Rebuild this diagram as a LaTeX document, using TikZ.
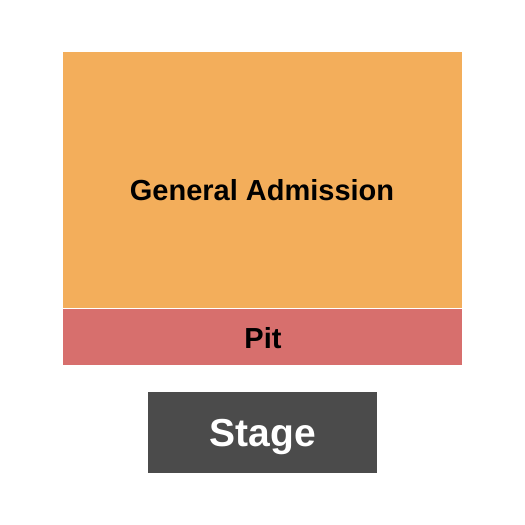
\documentclass[tikz,border=0pt]{standalone}
\usepackage{fontspec}
\setmainfont{Liberation Sans}
\definecolor{gacolor}{HTML}{F3AE5B}
\definecolor{pitcolor}{HTML}{D76F6D}
\definecolor{stagecolor}{HTML}{4B4B4B}
\tikzset{
  section/.style = {inner sep=0pt, anchor=base},
}
\begin{document}
\begin{tikzpicture}[x=1pt, y=-1pt]
  \useasboundingbox (0,0) rectangle (525,525);
  % general admission
  \fill[gacolor] (63,52) rectangle (462,307.5);
  \node[section, font=\fontsize{29}{29}\bfseries] (ga) at (262,200.5) {General Admission};
  % pit
  \fill[pitcolor] (63,309) rectangle (462,364.5);
  \node[section, font=\fontsize{29}{29}\bfseries] (pit) at (263,348.5) {Pit};
  % stage
  \fill[stagecolor] (148,392) rectangle (377,472.5);
  \node[section, text=white, font=\fontsize{39}{39}\bfseries] (stage) at (263,446) {Stage};
\end{tikzpicture}
\end{document}
